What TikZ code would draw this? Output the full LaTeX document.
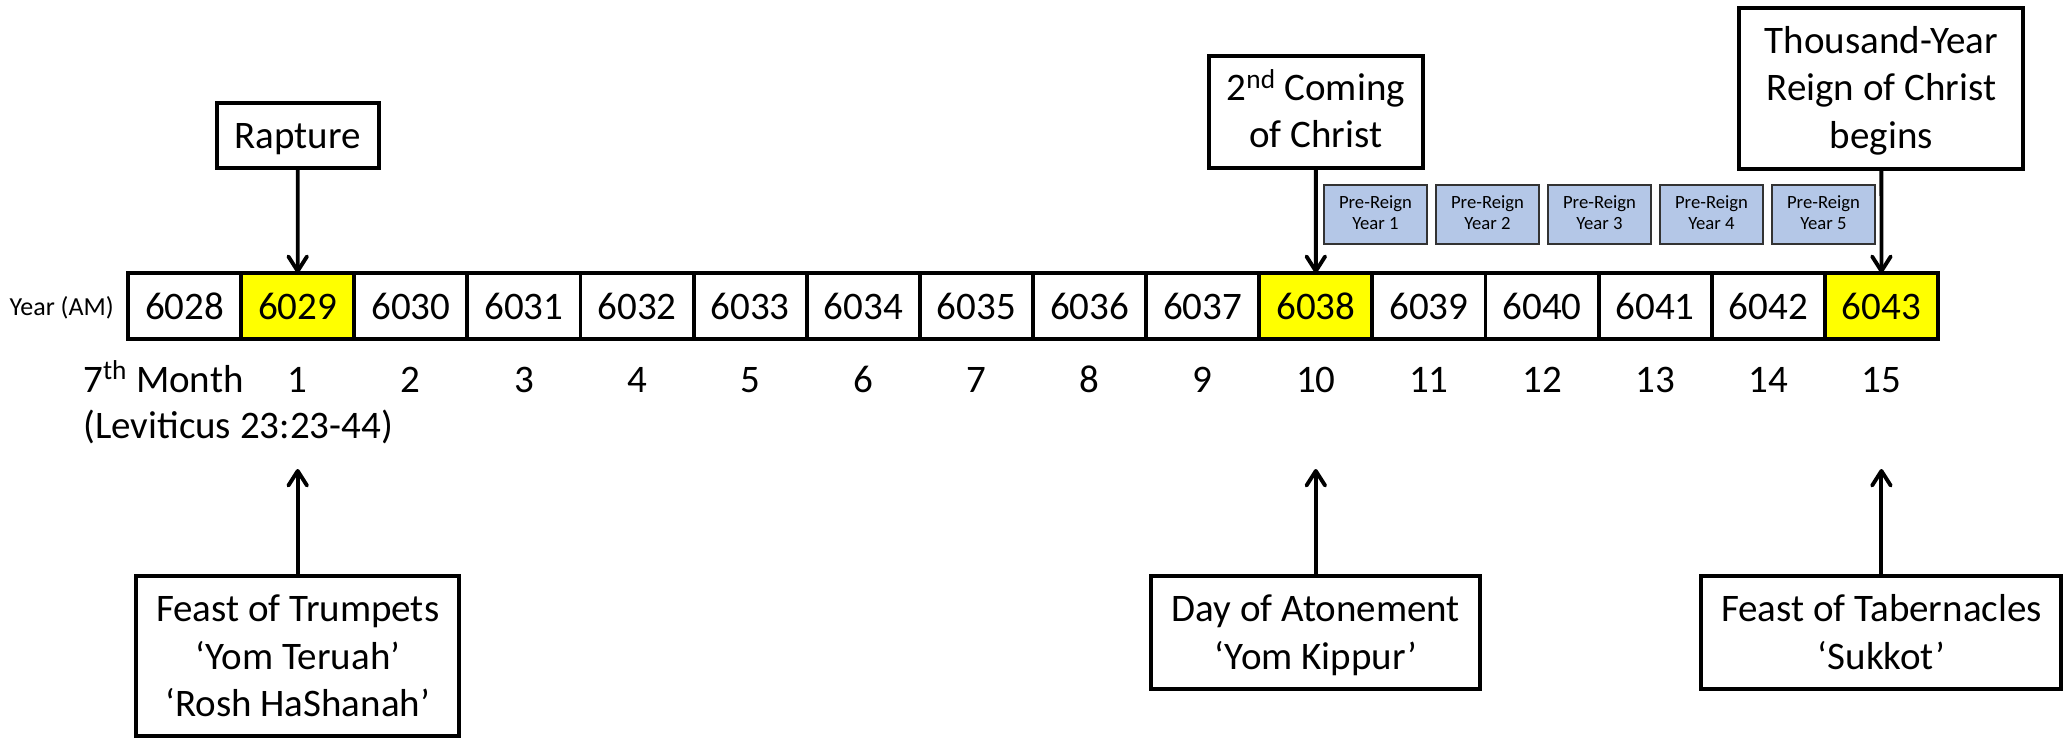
\documentclass[tikz,border=0pt]{standalone}
\usepackage{fontspec}
\setmainfont{Carlito}
\usetikzlibrary{arrows.meta}
\definecolor{prb}{HTML}{B4C7E7}
\definecolor{hy}{HTML}{FFFF00}
\begin{document}
\begin{tikzpicture}[x=0.75pt,y=-0.75pt,
  bigfont/.style={font=\fontsize{29.25}{35.6}\selectfont},
  evbox/.style={draw=black, line width=2.9pt, fill=white, inner sep=0pt, outer sep=0pt},
  cellbox/.style={draw=black, line width=2.9pt, inner sep=0pt, outer sep=0pt,
    minimum width=84.84pt, minimum height=49.5pt, text height=20pt, text depth=0pt, bigfont},
  txt/.style={align=center, inner sep=0pt, bigfont},
  prebox/.style={draw=black!80, line width=1.1pt, fill=prb, inner sep=0pt, outer sep=0pt,
    minimum width=77.25pt, minimum height=44.25pt, align=center,
    font=\fontsize{14}{16.2}\selectfont},
  arr/.style={line width=2.9pt, -{Straight Barb[length=11pt,width=14pt,line cap=round,line join=round]}}]
\fill[white] (0,0) rectangle (2063,738);
\useasboundingbox (0,0) rectangle (2063,738);

% timeline cells
\foreach \i/\f in {0/white,1/hy,2/white,3/white,4/white,5/white,6/white,7/white,8/white,9/white,10/hy,11/white,12/white,13/white,14/white,15/hy} {
  \pgfmathtruncatemacro{\yr}{6028+\i}
  \node[cellbox, fill=\f] (c\i) at ({128+(\i+0.5)*113.125},306) {\yr};
}
\node[anchor=base east, inner sep=0pt, font=\fontsize{19.5}{23.4}\selectfont] (yearlbl) at (114,315) {Year (AM)};

% month numbers
\node[anchor=base west, inner sep=0pt, bigfont] (monthlbl) at (83,392) {7\textsuperscript{th} Month};
\node[anchor=base west, inner sep=0pt, bigfont] (levlbl) at (83,438) {(Leviticus 23:23-44)};
\foreach \i in {1,...,15} {
  \node[anchor=base, inner sep=0pt, bigfont] (m\i) at ({128+(\i+0.5)*113.125},392) {\i};
}

% top event boxes
\node[evbox, minimum width=121.5pt, minimum height=48.75pt] (rap) at (297.69,135.5) {};
\node[txt] (raptxt) at (297.69,139.5) {\strut Rapture};
\node[evbox, minimum width=160.5pt, minimum height=84pt] (sec) at (1315.8,112) {};
\node[txt] (sectxt) at (1315.8,114.5) {\strut 2\textsuperscript{nd} Coming\\\strut of Christ};
\node[evbox, minimum width=213pt, minimum height=120.75pt] (thou) at (1881.4,88.5) {};
\node[txt] (thoutxt) at (1881.4,91.3) {\strut Thousand-Year\\\strut Reign of Christ\\\strut begins};

\draw[arr] (rap.south) -- (c1.north);
\draw[arr] (sec.south) -- (c10.north);
\draw[arr] (thou.south) -- (c15.north);

% pre-reign boxes
\foreach \k in {1,...,5} {
  \node[prebox] (pr\k) at ({1375.5+112*(\k-1)},214.5) {\strut Pre-Reign\\\strut Year \k};
}

% bottom feast boxes
\node[evbox, minimum width=242.25pt, minimum height=120pt] (trump) at (297.69,656) {};
\node[txt] (trumptxt) at (297.69,659.7) {\strut Feast of Trumpets\\\strut ‘Yom Teruah’\\\strut ‘Rosh HaShanah’};
\node[evbox, minimum width=246.75pt, minimum height=84.75pt] (aton) at (1315.8,632.5) {};
\node[txt] (atontxt) at (1315.8,636) {\strut Day of Atonement\\\strut ‘Yom Kippur’};
\node[evbox, minimum width=270pt, minimum height=84.75pt] (tab) at (1881.4,632.5) {};
\node[txt] (tabtxt) at (1881.4,636) {\strut Feast of Tabernacles\\\strut ‘Sukkot’};

\coordinate (t1) at (297.69,469);
\coordinate (t10) at (1315.8,469);
\coordinate (t15) at (1881.4,469);
\draw[arr] (trump.north) -- (t1);
\draw[arr] (aton.north) -- (t10);
\draw[arr] (tab.north) -- (t15);
\end{tikzpicture}
\end{document}
